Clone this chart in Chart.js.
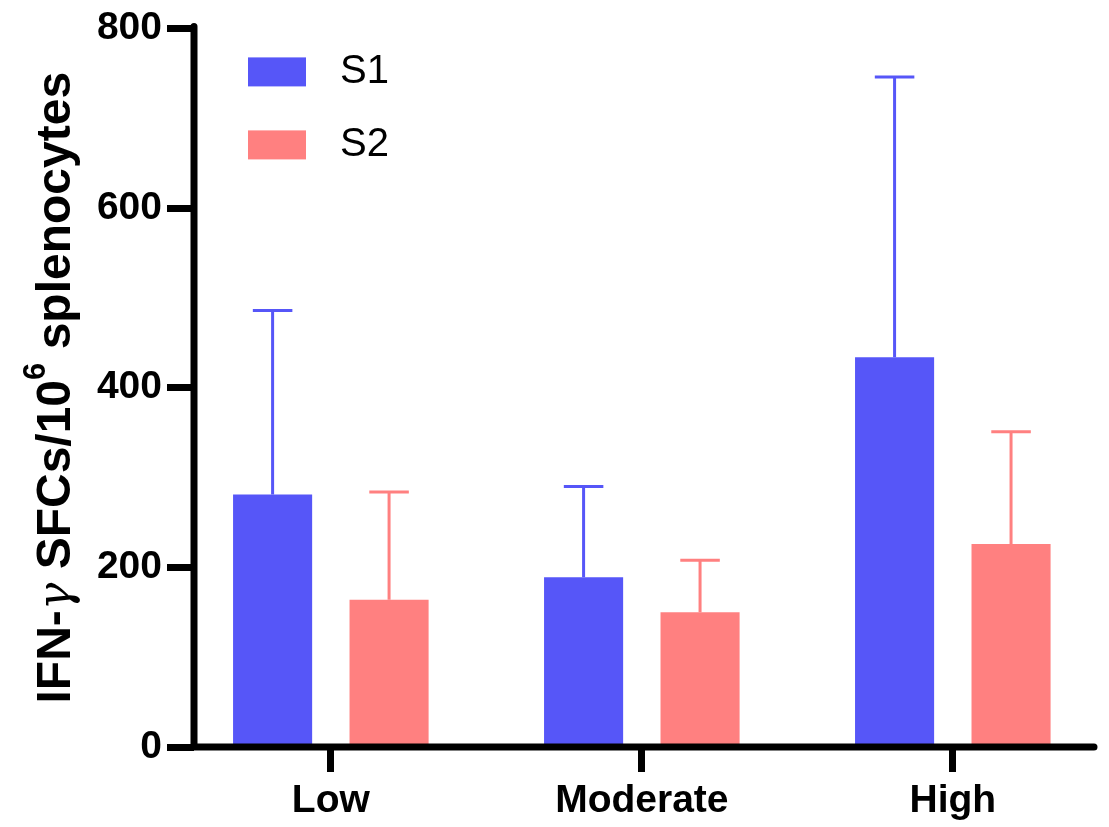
<!DOCTYPE html>
<html>
<head>
<meta charset="utf-8">
<script src="https://cdn.jsdelivr.net/npm/chart.js@4.4.0/dist/chart.umd.min.js"></script>
<style>
  html, body { margin: 0; padding: 0; background: #fff; }
  #wrap { width: 1109px; height: 827px; }
</style>
</head>
<body>
<div id="wrap"><canvas id="myChart"></canvas></div>
<script>
const categories = ["Low", "Moderate", "High"];
const seriesNames = ["S1", "S2"];
const s1Values = [281, 189, 434];
const s1Errors = [205, 101, 312];
const s2Values = [164, 150, 226];
const s2Errors = [120, 58, 125];
const yTicks = [0, 200, 400, 600, 800];

const colors = ["#5656f8", "#ff8080"];
const FONT = "'Liberation Sans', Arial, sans-serif";

const toPoints = (vals) => vals.map((v, i) => ({ x: i, y: v }));

// upper error bars with a cap, same colour as the bar
const errorBars = {
  id: "errorBars",
  afterDatasetsDraw(chart) {
    const ctx = chart.ctx;
    const yScale = chart.scales.y;
    chart.data.datasets.forEach((ds, di) => {
      chart.getDatasetMeta(di).data.forEach((bar, i) => {
        const top = yScale.getPixelForValue(ds.data[i].y + ds.errors[i]);
        const half = bar.width / 4;
        ctx.save();
        ctx.strokeStyle = ds.backgroundColor;
        ctx.lineWidth = 3;
        ctx.beginPath();
        ctx.moveTo(bar.x, bar.y);
        ctx.lineTo(bar.x, top);
        ctx.moveTo(bar.x - half, top);
        ctx.lineTo(bar.x + half, top);
        ctx.stroke();
        ctx.restore();
      });
    });
  },
};

// thick black axis lines with round ends
const axisLines = {
  id: "axisLines",
  afterDatasetsDraw(chart) {
    const { ctx, chartArea: a } = chart;
    ctx.save();
    ctx.strokeStyle = "#000";
    ctx.lineWidth = 7;
    ctx.lineCap = "round";
    ctx.beginPath();
    ctx.moveTo(a.left, a.top - 2);
    ctx.lineTo(a.left, a.bottom);
    ctx.lineTo(a.right, a.bottom);
    ctx.stroke();
    ctx.restore();
  },
};

// legend sits inside the plot, top left
const innerLegend = {
  id: "innerLegend",
  afterDraw(chart) {
    const { ctx, chartArea: a } = chart;
    ctx.save();
    chart.data.datasets.forEach((ds, i) => {
      const top = a.top + 29 + i * 73;
      ctx.fillStyle = ds.backgroundColor;
      ctx.fillRect(a.left + 54, top, 58, 29);
      ctx.fillStyle = "#000";
      ctx.font = "40px " + FONT;
      ctx.textBaseline = "middle";
      ctx.textAlign = "left";
      ctx.fillText(ds.label, a.left + 146, top + 15);
    });
    ctx.restore();
  },
};

// y title with italic gamma and superscript 6
const yTitle = {
  id: "yTitle",
  afterDraw(chart) {
    const { ctx, chartArea: a } = chart;
    const parts = [
      { t: "IFN-", f: "bold 48px " + FONT, dy: 0 },
      { t: "\u03b3", f: "italic 46px 'DejaVu Serif', serif", dy: 0 },
      { t: " SFCs/10", f: "bold 48px " + FONT, dy: 0 },
      { t: "6", f: "bold 31px " + FONT, dy: -25 },
      { t: " splenocytes", f: "bold 48px " + FONT, dy: 0 },
    ];
    ctx.save();
    let total = 0;
    parts.forEach((p) => {
      ctx.font = p.f;
      p.w = ctx.measureText(p.t).width;
      total += p.w;
    });
    ctx.translate(70, (a.top + a.bottom) / 2);
    ctx.rotate(-Math.PI / 2);
    ctx.fillStyle = "#000";
    ctx.textBaseline = "alphabetic";
    ctx.textAlign = "left";
    let x = -total / 2;
    parts.forEach((p) => {
      ctx.font = p.f;
      ctx.fillText(p.t, x, p.dy);
      x += p.w;
    });
    ctx.restore();
  },
};

const ctx = document.getElementById("myChart").getContext("2d");

new Chart(ctx, {
  type: "bar",
  data: {
    datasets: [
      { label: seriesNames[0], data: toPoints(s1Values), errors: s1Errors, backgroundColor: colors[0] },
      { label: seriesNames[1], data: toPoints(s2Values), errors: s2Errors, backgroundColor: colors[1] },
    ],
  },
  options: {
    responsive: true,
    maintainAspectRatio: false,
    animation: false,
    categoryPercentage: 0.749,
    barPercentage: 0.679,
    layout: { padding: { top: 25, right: 15, left: 0, bottom: 0 } },
    plugins: {
      legend: { display: false },
      tooltip: { enabled: false },
    },
    scales: {
      x: {
        type: "linear",
        offset: false,
        min: -0.44,
        max: 2.454,
        afterBuildTicks: (s) => {
          s.ticks = categories.map((c, i) => ({ value: i }));
        },
        afterFit: (s) => {
          s.height = 80;
        },
        border: { display: false },
        grid: {
          offset: false,
          drawOnChartArea: false,
          drawTicks: true,
          tickLength: 25,
          tickWidth: 7,
          tickColor: "#000",
        },
        ticks: {
          color: "#000",
          padding: 6,
          font: { family: FONT, size: 39, weight: "bold" },
          callback: (v) => categories[v],
        },
      },
      y: {
        min: 0,
        max: 800,
        afterBuildTicks: (s) => {
          s.ticks = yTicks.map((v) => ({ value: v }));
        },
        afterFit: (s) => {
          s.width = 194;
        },
        border: { display: false },
        grid: {
          drawOnChartArea: false,
          drawTicks: true,
          tickLength: 27,
          tickWidth: 7,
          tickColor: "#000",
        },
        ticks: {
          color: "#000",
          padding: 5,
          font: { family: FONT, size: 39, weight: "bold" },
        },
      },
    },
  },
  plugins: [errorBars, axisLines, innerLegend, yTitle],
});
</script>
</body>
</html>
